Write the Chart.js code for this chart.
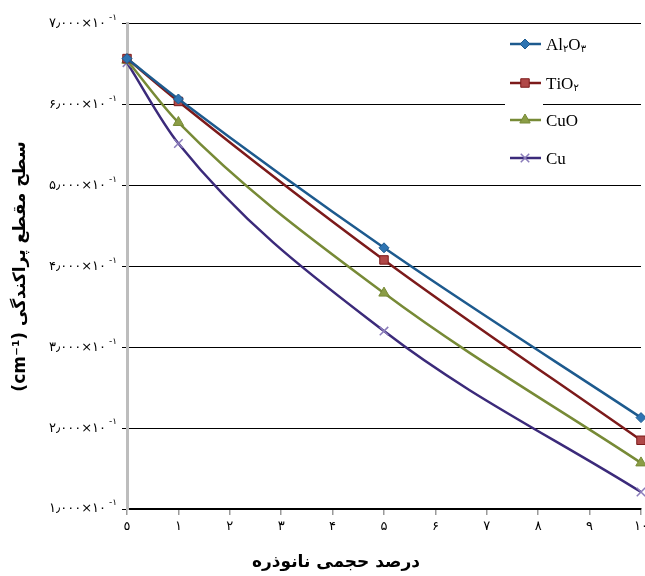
<!DOCTYPE html>
<html>
<head>
<meta charset="utf-8">
<script src="https://cdn.jsdelivr.net/npm/chart.js@4.4.0/dist/chart.umd.min.js"></script>
<style>
html, body { margin: 0; padding: 0; overflow: hidden; background: #fff; }
</style>
</head>
<body>
<canvas id="chart" width="660" height="576"></canvas>
<script>
// data
const xValues = [0, 1, 5, 10];
const al2o3 = [6.57, 6.07, 4.23, 2.13];
const tio2 = [6.57, 6.04, 4.08, 1.85];
const cuo = [6.55, 5.78, 3.67, 1.57];
const cu = [6.52, 5.52, 3.20, 1.21];
const seriesNames = ['Al۲O۳', 'TiO۲', 'CuO', 'Cu'];
const xTickLabels = ['٥', '۱', '۲', '۳', '۴', '۵', '۶', '۷', '۸', '۹', '۱۰'];
const yTickDigits = ['', '۱', '۲', '۳', '۴', '۵', '۶', '۷'];
const xTitle = 'درصد حجمی نانوذره';
const yTitle = '(cm⁻¹) سطح مقطع پراکندگی';

const persianFont = "'DejaVu Sans', sans-serif";

function toPoints(ys) {
    return xValues.map((x, i) => ({ x: x, y: ys[i] }));
}

const datasets = [
    { label: seriesNames[0], data: toPoints(al2o3), borderColor: '#1d5a8e', pointBackgroundColor: '#2e74b2', pointBorderColor: '#1d5a8e', pointStyle: 'rectRot', pointRadius: 5 },
    { label: seriesNames[1], data: toPoints(tio2), borderColor: '#7c1a1a', pointBackgroundColor: '#b04848', pointBorderColor: '#7c1a1a', pointStyle: 'rect', pointRadius: 6 },
    { label: seriesNames[2], data: toPoints(cuo), borderColor: '#778a36', pointBackgroundColor: '#8b9d46', pointBorderColor: '#778a36', pointStyle: 'triangle', pointRadius: 6 },
    { label: seriesNames[3], data: toPoints(cu), borderColor: '#3b2a7a', pointBackgroundColor: '#8a7cba', pointBorderColor: '#8a7cba', pointStyle: 'crossRot', pointRadius: 6 }
];
datasets.forEach(d => {
    d.borderWidth = 2.5;
    d.cubicInterpolationMode = 'monotone';
    d.fill = false;
    d.clip = false;
    d.pointBorderWidth = d.pointStyle === 'crossRot' ? 1.5 : 1;
});

// superscript "-1" after every y tick label, x title and the legend
const extrasPlugin = {
    id: 'extras',
    afterDraw(chart) {
        const ctx = chart.ctx;
        const yScale = chart.scales.y;
        ctx.save();
        ctx.fillStyle = '#000';
        ctx.font = '9px ' + persianFont;
        ctx.textAlign = 'left';
        ctx.textBaseline = 'middle';
        for (let v = 1; v <= 7; v++) {
            const y = yScale.getPixelForValue(v);
            ctx.fillText('-۱', yScale.right - 18, y - 6);
        }

        ctx.font = 'bold 17px ' + persianFont;
        ctx.textAlign = 'center';
        ctx.fillText(xTitle, 336, 563);

        // legend
        ctx.fillStyle = '#fff';
        ctx.fillRect(505, 28, 38, 146);
        const rows = [44, 83, 120, 158];
        chart.data.datasets.forEach((ds, i) => {
            const y = rows[i];
            ctx.strokeStyle = ds.borderColor;
            ctx.lineWidth = 2.5;
            ctx.beginPath();
            ctx.moveTo(510, y);
            ctx.lineTo(541, y);
            ctx.stroke();
            ctx.fillStyle = ds.pointBackgroundColor;
            ctx.strokeStyle = ds.pointBorderColor;
            ctx.lineWidth = ds.pointBorderWidth;
            Chart.helpers.drawPoint(ctx, { pointStyle: ds.pointStyle, radius: ds.pointRadius, rotation: 0, borderWidth: ds.pointBorderWidth }, 525, y);

            // name with small lowered digits
            let x = 546;
            ctx.fillStyle = '#000';
            ctx.textAlign = 'left';
            ctx.textBaseline = 'alphabetic';
            for (const ch of ds.label) {
                const isDigit = /[۰-۹]/.test(ch);
                ctx.font = isDigit ? '10px ' + persianFont : "17px 'Liberation Serif', serif";
                ctx.fillText(ch, x, isDigit ? y + 8 : y + 6);
                x += ctx.measureText(ch).width;
            }
        });
        ctx.restore();
    }
};

const ctx = document.getElementById('chart').getContext('2d');
new Chart(ctx, {
    type: 'line',
    data: { datasets: datasets },
    plugins: [extrasPlugin],
    options: {
        responsive: false,
        animation: false,
        layout: { padding: { top: 22, right: 19, left: 0, bottom: 0 } },
        plugins: { legend: { display: false }, tooltip: { enabled: false } },
        scales: {
            x: {
                type: 'linear',
                min: 0,
                max: 10,
                afterFit: scale => { scale.height = 67; },
                ticks: {
                    stepSize: 1,
                    color: '#000',
                    padding: 4,
                    maxRotation: 0,
                    font: { family: persianFont, size: 13 },
                    callback: v => xTickLabels[v]
                },
                grid: { drawOnChartArea: false, tickLength: 6, color: '#9a9a9a', lineWidth: 1.5 },
                border: { color: '#000', width: 1.5 }
            },
            y: {
                min: 1,
                max: 7,
                afterFit: scale => { scale.width = 127; },
                ticks: {
                    stepSize: 1,
                    color: '#000',
                    padding: 16,
                    font: { family: persianFont, size: 13 },
                    callback: v => yTickDigits[v] + '٫۰۰۰×۱۰'
                },
                grid: { color: '#000', lineWidth: 1, tickLength: 5 },
                border: { color: '#bdbdbd', width: 3 },
                title: {
                    display: true,
                    text: yTitle,
                    color: '#000',
                    font: { family: persianFont, size: 17, weight: 'bold' },
                    padding: { top: 10, bottom: 0 }
                }
            }
        }
    }
});
</script>
</body>
</html>
